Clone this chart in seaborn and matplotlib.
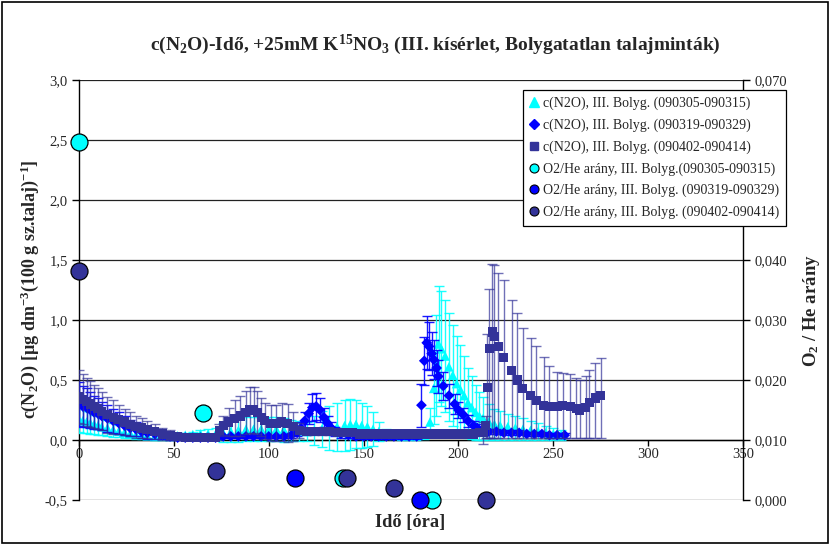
import numpy as np
import pandas as pd
import matplotlib
matplotlib.use("Agg")
import matplotlib.pyplot as plt
import seaborn as sns
from matplotlib.lines import Line2D
from matplotlib.patches import Rectangle
from matplotlib.ticker import FuncFormatter, MultipleLocator

# c(N2O) series, III. Bolyg. (090305-090315) - cyan triangles
t_cyan = [0, 2, 4, 6, 8, 10, 12, 15, 18, 21, 24, 27, 30, 33, 36, 40, 44, 48, 52, 56,
          60, 64, 68, 72, 76, 80, 84, 88, 92, 96, 100, 104, 108, 112, 116, 120, 124, 128,
          132, 136, 140, 143, 146, 149, 152, 155, 158, 162, 166, 170, 174, 178, 182, 185,
          187, 188, 189.5, 191, 193, 195, 197, 199, 201, 203, 205, 207, 209, 211, 213, 216,
          219, 222, 226, 230, 234, 238, 242, 246, 250, 254]
v_cyan = [0.17, 0.16, 0.15, 0.14, 0.13, 0.12, 0.11, 0.10, 0.085, 0.075, 0.065, 0.055, 0.045,
          0.04, 0.035, 0.03, 0.03, 0.03, 0.035, 0.04, 0.045, 0.05, 0.05, 0.05, 0.06, 0.07,
          0.08, 0.09, 0.09, 0.09, 0.09, 0.09, 0.085, 0.08, 0.075, 0.07, 0.08, 0.09, 0.10,
          0.11, 0.12, 0.13, 0.13, 0.12, 0.11, 0.09, 0.07, 0.05, 0.04, 0.03, 0.03, 0.03, 0.04,
          0.15, 0.43, 0.62, 0.80, 0.76, 0.70, 0.61, 0.54, 0.47, 0.42, 0.37, 0.31, 0.27, 0.23,
          0.20, 0.18, 0.15, 0.13, 0.12, 0.11, 0.10, 0.09, 0.08, 0.07, 0.06, 0.05, 0.04]
e_cyan = [0.10, 0.10, 0.09, 0.09, 0.08, 0.08, 0.07, 0.07, 0.06, 0.05, 0.05, 0.04, 0.04,
          0.03, 0.03, 0.03, 0.02, 0.02, 0.02, 0.02, 0.02, 0.03, 0.04, 0.05, 0.08, 0.09,
          0.10, 0.10, 0.10, 0.10, 0.10, 0.10, 0.10, 0.09, 0.08, 0.08, 0.12, 0.15, 0.18,
          0.20, 0.21, 0.21, 0.20, 0.19, 0.17, 0.14, 0.08, 0.04, 0.03, 0.02, 0.02, 0.02, 0.03,
          0.12, 0.30, 0.42, 0.48, 0.48, 0.47, 0.45, 0.42, 0.40, 0.37, 0.33, 0.29, 0.26, 0.23,
          0.20, 0.18, 0.15, 0.13, 0.12, 0.11, 0.10, 0.09, 0.08, 0.07, 0.06, 0.05, 0.04]

# c(N2O) series, III. Bolyg. (090319-090329) - blue diamonds
t_blue = [0, 2, 4, 6, 8, 10, 12, 15, 18, 21, 24, 27, 30, 33, 36, 40, 44, 48, 52, 56, 60,
          64, 68, 72, 76, 80, 84, 88, 92, 96, 100, 104, 108, 112, 115, 117, 119, 121, 123,
          125, 127, 129, 131, 133, 135, 138, 142, 146, 150, 154, 158, 162, 166, 170, 174,
          178, 180.5, 182, 183.3, 184.5, 185.9, 187, 188.5, 189.4, 192, 195, 198, 200, 202.6,
          205, 208, 210, 213, 216, 220, 224, 228, 232, 236, 240, 244, 248, 252, 256]
v_blue = [0.30, 0.28, 0.27, 0.25, 0.23, 0.22, 0.20, 0.18, 0.16, 0.14, 0.12, 0.10, 0.09,
          0.07, 0.06, 0.05, 0.04, 0.03, 0.02, 0.02, 0.02, 0.02, 0.02, 0.02, 0.03, 0.03,
          0.03, 0.03, 0.03, 0.03, 0.03, 0.03, 0.03, 0.04, 0.06, 0.10, 0.16, 0.22, 0.27,
          0.28, 0.25, 0.19, 0.14, 0.10, 0.07, 0.05, 0.04, 0.03, 0.03, 0.03, 0.03, 0.03,
          0.03, 0.03, 0.03, 0.03, 0.29, 0.66, 0.81, 0.78, 0.72, 0.67, 0.60, 0.53, 0.45,
          0.37, 0.30, 0.25, 0.21, 0.16, 0.12, 0.10, 0.08, 0.07, 0.07, 0.06, 0.06, 0.06,
          0.05, 0.05, 0.05, 0.04, 0.04, 0.04]
e_blue = [0.18, 0.17, 0.16, 0.15, 0.14, 0.13, 0.12, 0.11, 0.10, 0.09, 0.08, 0.07, 0.06,
          0.05, 0.05, 0.04, 0.03, 0.03, 0.02, 0.02, 0.02, 0.01, 0.01, 0.01, 0.01, 0.01,
          0.01, 0.01, 0.01, 0.01, 0.01, 0.01, 0.01, 0.02, 0.03, 0.05, 0.07, 0.09, 0.11,
          0.11, 0.10, 0.08, 0.06, 0.05, 0.04, 0.03, 0.02, 0.02, 0.02, 0.02, 0.02, 0.02,
          0.02, 0.02, 0.02, 0.02, 0.18, 0.20, 0.22, 0.20, 0.18, 0.16, 0.15, 0.14, 0.12,
          0.10, 0.08, 0.07, 0.06, 0.05, 0.04, 0.03, 0.03, 0.02, 0.02, 0.02, 0.02, 0.02,
          0.02, 0.02, 0.02, 0.02, 0.02, 0.02]

# c(N2O) series, III. Bolyg. (090402-090414) - navy squares
t_navy = [0, 2, 4, 6, 8, 10, 12, 15, 18, 21, 24, 27, 30, 33, 36, 40, 44, 48, 52, 56, 60,
          64, 68, 72, 74, 76, 79, 82, 85, 88, 90, 92, 94, 96, 98, 101, 104, 107, 110, 113,
          116, 120, 124, 128, 132, 136, 140, 144, 148, 152, 156, 160, 164, 168, 172, 176,
          180, 184, 188, 192, 196, 200, 204, 208, 211, 213, 214.5, 215.3, 216.3, 217.8, 219,
          221, 224, 228, 231, 234, 238, 241, 245, 248, 252, 255, 259, 262, 264, 267, 269,
          272, 275]
v_navy = [0.36, 0.34, 0.32, 0.30, 0.28, 0.26, 0.24, 0.21, 0.19, 0.17, 0.15, 0.13, 0.11,
          0.10, 0.09, 0.07, 0.05, 0.04, 0.03, 0.02, 0.02, 0.02, 0.02, 0.02, 0.08, 0.12,
          0.15, 0.18, 0.20, 0.23, 0.25, 0.25, 0.23, 0.19, 0.16, 0.14, 0.14, 0.15, 0.14,
          0.11, 0.08, 0.07, 0.07, 0.07, 0.07, 0.06, 0.06, 0.06, 0.05, 0.05, 0.05, 0.05,
          0.05, 0.05, 0.05, 0.05, 0.05, 0.05, 0.05, 0.05, 0.05, 0.05, 0.05, 0.05, 0.06,
          0.06, 0.12, 0.44, 0.76, 0.90, 0.86, 0.78, 0.69, 0.58, 0.50, 0.43, 0.37, 0.33,
          0.29, 0.28, 0.28, 0.29, 0.28, 0.26, 0.25, 0.27, 0.31, 0.35, 0.37]
e_navy_up = [0.22, 0.21, 0.20, 0.19, 0.18, 0.17, 0.16, 0.15, 0.14, 0.12, 0.11, 0.10, 0.09,
             0.08, 0.07, 0.06, 0.05, 0.04, 0.03, 0.02, 0.02, 0.02, 0.02, 0.02, 0.05, 0.08,
             0.12, 0.15, 0.17, 0.18, 0.19, 0.19, 0.18, 0.16, 0.15, 0.15, 0.15, 0.16, 0.16,
             0.12, 0.06, 0.03, 0.03, 0.03, 0.03, 0.02, 0.02, 0.02, 0.02, 0.02, 0.02, 0.02,
             0.02, 0.02, 0.02, 0.02, 0.02, 0.02, 0.02, 0.02, 0.02, 0.02, 0.02, 0.02, 0.02,
             0.09, 0.08, 0.44, 0.50, 0.57, 0.60, 0.61, 0.64, 0.59, 0.56, 0.50, 0.48, 0.45,
             0.40, 0.34, 0.29, 0.27, 0.27, 0.26, 0.25, 0.26, 0.27, 0.29, 0.31]
e_navy_dn = [0.22, 0.21, 0.20, 0.19, 0.18, 0.17, 0.16, 0.15, 0.14, 0.12, 0.11, 0.10, 0.09,
             0.08, 0.07, 0.06, 0.05, 0.04, 0.03, 0.02, 0.02, 0.02, 0.02, 0.02, 0.05, 0.08,
             0.12, 0.15, 0.17, 0.18, 0.19, 0.19, 0.18, 0.16, 0.15, 0.15, 0.15, 0.16, 0.16,
             0.12, 0.06, 0.03, 0.03, 0.03, 0.03, 0.02, 0.02, 0.02, 0.02, 0.02, 0.02, 0.02,
             0.02, 0.02, 0.02, 0.02, 0.02, 0.02, 0.02, 0.02, 0.02, 0.02, 0.02, 0.02, 0.02,
             0.09, 0.10, 0.42, 0.74, 0.88, 0.84, 0.76, 0.67, 0.56, 0.48, 0.41, 0.35, 0.31,
             0.27, 0.26, 0.26, 0.27, 0.26, 0.24, 0.23, 0.25, 0.29, 0.33, 0.35]

# O2/He ratio (right axis)
t_o2_cyan = [0, 65.5, 139, 186]
v_o2_cyan = [0.0597, 0.0145, 0.0036, 0.0]
t_o2_blue = [114, 179.5]
v_o2_blue = [0.0037, 0.0]
t_o2_navy = [0, 72, 141.5, 166, 214.5]
v_o2_navy = [0.0382, 0.0049, 0.0037, 0.0020, 0.0]

labels = [
    "c(N2O), III. Bolyg. (090305-090315)",
    "c(N2O), III. Bolyg. (090319-090329)",
    "c(N2O), III. Bolyg. (090402-090414)",
    "O2/He arány, III. Bolyg.(090305-090315)",
    "O2/He arány, III. Bolyg. (090319-090329)",
    "O2/He arány, III. Bolyg. (090402-090414)",
]

CYAN = "#00FFFF"
BLUE = "#0000FF"
NAVY = "#333399"

sns.set_style("white")
plt.rcParams["font.family"] = ["Liberation Serif", "DejaVu Serif"]
plt.rcParams["mathtext.fontset"] = "custom"
plt.rcParams["mathtext.rm"] = "Liberation Serif"
plt.rcParams["mathtext.bf"] = "Liberation Serif:bold"
plt.rcParams["mathtext.default"] = "regular"

fig = plt.figure(figsize=(8.3, 5.45), dpi=100)
ax = fig.add_axes([79 / 830, 1 - 500 / 545, 664 / 830, 420 / 545])

series = [
    (t_cyan, v_cyan, e_cyan, e_cyan, CYAN, "^", 48, 0.9),
    (t_blue, v_blue, e_blue, e_blue, BLUE, "D", 30, 0.9),
    (t_navy, v_navy, e_navy_dn, e_navy_up, NAVY, "s", 42, 0.7),
]
z = 3
for t, v, edn, eup, col, mk, size, alpha in series:
    ax.errorbar(t, v, yerr=[edn, eup], fmt="none", ecolor=col, elinewidth=1.0,
                capsize=3.5, capthick=1.0, alpha=alpha, zorder=z)
    df = pd.DataFrame({"t": t, "v": v})
    sns.scatterplot(data=df, x="t", y="v", marker=mk, color=col, s=size,
                    edgecolor="none", linewidth=0, ax=ax, zorder=z + 0.5, legend=False)
    z += 1

ax.set_xlim(0, 350)
ax.set_ylim(-0.5, 3.0)
ax.yaxis.set_major_locator(MultipleLocator(0.5))
ax.xaxis.set_major_locator(MultipleLocator(50))
ax.yaxis.set_major_formatter(FuncFormatter(lambda y, p: f"{y:.1f}".replace(".", ",")))
ax.set_xlabel("")
ax.set_ylabel("")
ax.grid(axis="y", color="#222222", linewidth=0.9)
ax.grid(axis="x", visible=False)
ax.set_axisbelow(True)

ax.spines["top"].set_visible(False)
ax.spines["right"].set_visible(False)
ax.spines["bottom"].set_position(("data", 0))
for s in ["left", "bottom"]:
    ax.spines[s].set_color("black")
    ax.spines[s].set_linewidth(1.0)
ax.tick_params(axis="y", direction="out", length=5, width=1, color="black",
               labelsize=10.5, pad=3, left=True)
ax.tick_params(axis="x", direction="out", length=4, width=1, color="black",
               labelsize=10.5, pad=2, bottom=True)


def right_fmt(y, pos):
    # 0,050 and 0,060 are covered by the legend box in the original
    if 0.045 < y < 0.065:
        return ""
    return f"{y:.3f}".replace(".", ",")


ax2 = ax.twinx()
ax2.set_ylim(0, 0.07)
ax2.yaxis.set_major_locator(MultipleLocator(0.01))
ax2.yaxis.set_major_formatter(FuncFormatter(right_fmt))
for t, v, col in [(t_o2_cyan, v_o2_cyan, CYAN), (t_o2_blue, v_o2_blue, BLUE),
                  (t_o2_navy, v_o2_navy, NAVY)]:
    sns.scatterplot(x=t, y=v, marker="o", color=col, s=150, edgecolor="black",
                    linewidth=0.9, ax=ax2, zorder=5, legend=False, clip_on=False)
ax2.set_xlim(0, 350)
for s in ["top", "left", "bottom"]:
    ax2.spines[s].set_visible(False)
ax2.spines["right"].set_color("black")
ax2.spines["right"].set_linewidth(1.0)
ax2.tick_params(axis="y", direction="out", length=5, width=1, color="black",
                labelsize=10.5, pad=3, right=True)

handles = [
    Line2D([], [], linestyle="none", marker="^", color=CYAN, markersize=6.5),
    Line2D([], [], linestyle="none", marker="D", color=BLUE, markersize=5),
    Line2D([], [], linestyle="none", marker="s", color=NAVY, markersize=6),
    Line2D([], [], linestyle="none", marker="o", markerfacecolor=CYAN,
           markeredgecolor="black", markersize=6.5, markeredgewidth=0.8),
    Line2D([], [], linestyle="none", marker="o", markerfacecolor=BLUE,
           markeredgecolor="black", markersize=6.5, markeredgewidth=0.8),
    Line2D([], [], linestyle="none", marker="o", markerfacecolor=NAVY,
           markeredgecolor="black", markersize=6.5, markeredgewidth=0.8),
]
leg = ax2.legend(handles, labels, loc="upper left", bbox_to_anchor=(0.668, 0.977),
                 fontsize=10, frameon=True, fancybox=False, framealpha=1,
                 edgecolor="black", borderaxespad=0, handlelength=0.6,
                 handletextpad=0.35, labelspacing=0.6, borderpad=0.5)
leg.get_frame().set_linewidth(0.9)
leg.set_zorder(20)

fig.text(0.524, 1 - 45 / 545,
         "c(N$_2$O)-Idő, +25mM K$^{15}$NO$_3$ (III. kísérlet, Bolygatatlan talajminták)",
         ha="center", va="center", fontsize=14, fontweight="bold")
fig.text(0.036, 0.47, "c(N$_2$O) [µg dm$^{-3}$(100 g sz.talaj)$^{-1}$]",
         ha="center", va="center", rotation=90, fontsize=13, fontweight="bold")
fig.text(0.978, 0.43, "O$_2$ / He arány", ha="center", va="center", rotation=90,
         fontsize=13.5, fontweight="bold")
fig.text(0.494, 1 - 523 / 545, "Idő [óra]", ha="center", va="center",
         fontsize=13.2, fontweight="bold")

fig.patches.append(Rectangle((0.002, 0.003), 0.996, 0.994, transform=fig.transFigure,
                             fill=False, edgecolor="black", linewidth=1.2))

fig.savefig("out.png", dpi=100)
